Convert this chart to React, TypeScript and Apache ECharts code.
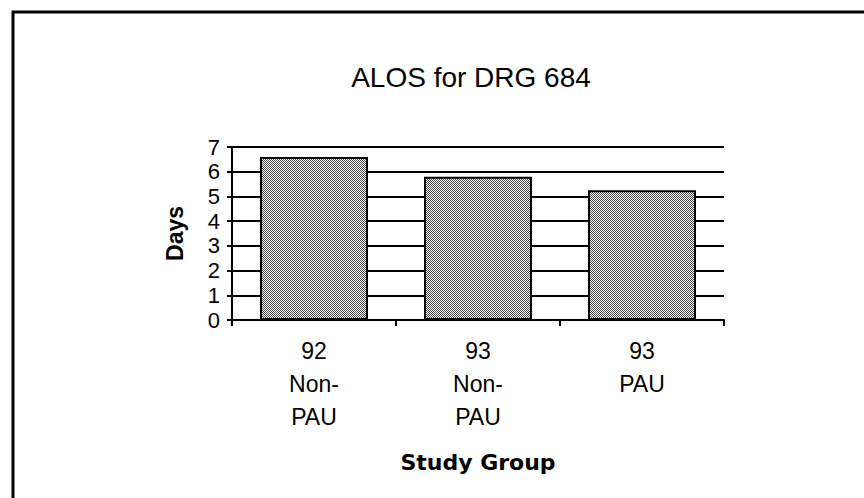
import React, { useEffect, useRef } from "react";
import * as echarts from "echarts";

const categories = ["92\nNon-\nPAU", "93\nNon-\nPAU", "93\nPAU"];
const alosDays = [6.6, 5.8, 5.25];
const titleText = "ALOS for DRG 684";
const yAxisName = "Days";
const xAxisName = "Study Group";

function makePattern(): HTMLCanvasElement {
  const c = document.createElement("canvas");
  c.width = 2;
  c.height = 2;
  const ctx = c.getContext("2d")!;
  ctx.fillStyle = "#ffffff";
  ctx.fillRect(0, 0, 2, 2);
  ctx.fillStyle = "#4a4a4a";
  ctx.fillRect(0, 0, 1, 1);
  ctx.fillRect(1, 1, 1, 1);
  return c;
}

export default function App() {
  const ref = useRef<HTMLDivElement>(null);
  useEffect(() => {
    if (!ref.current) return;
    const chart = echarts.init(ref.current, undefined, { renderer: "svg" });
    const sans = '"Liberation Sans", Arial, sans-serif';
    chart.setOption({
      animation: false,
      backgroundColor: "#ffffff",
      title: {
        text: titleText,
        left: 466,
        top: 58,
        textAlign: "center",
        textStyle: {
          fontFamily: sans,
          fontWeight: "normal",
          fontSize: 28,
          color: "#000",
        },
      },
      graphic: [
        {
          type: "rect",
          shape: { x: 13, y: 12, width: 900, height: 600 },
          style: { fill: "none", stroke: "#000", lineWidth: 3 },
          silent: true,
        },
      ],
      grid: { left: 232, right: 140, top: 147, bottom: 178, containLabel: false },
      xAxis: {
        type: "category",
        data: categories,
        name: xAxisName,
        nameLocation: "middle",
        nameGap: 131,
        nameTextStyle: {
          fontFamily: '"DejaVu Sans", sans-serif',
          fontWeight: "bold",
          fontSize: 22,
          color: "#000",
        },
        axisLine: { lineStyle: { color: "#000", width: 2 } },
        axisTick: { show: true, length: 6, lineStyle: { color: "#000", width: 2 } },
        axisLabel: {
          color: "#000",
          fontFamily: sans,
          fontSize: 23,
          lineHeight: 33,
          margin: 14,
          interval: 0,
        },
      },
      yAxis: {
        type: "value",
        min: 0,
        max: 7,
        interval: 1,
        name: yAxisName,
        nameLocation: "middle",
        nameGap: 46,
        nameRotate: 90,
        nameTextStyle: {
          fontFamily: sans,
          fontWeight: "bold",
          fontSize: 23,
          color: "#000",
        },
        axisLine: { show: true, lineStyle: { color: "#000", width: 2 } },
        axisTick: { show: true, length: 5, lineStyle: { color: "#000", width: 2 } },
        axisLabel: {
          color: "#000",
          fontFamily: sans,
          fontSize: 22,
          margin: 12,
        },
        splitLine: { show: true, lineStyle: { color: "#000", width: 2 } },
      },
      series: [
        {
          type: "bar",
          data: alosDays,
          barWidth: 108,
          itemStyle: {
            color: { image: makePattern(), repeat: "repeat" },
            borderColor: "#000",
            borderWidth: 2,
          },
        },
      ],
    });
    return () => chart.dispose();
  }, []);
  return (
    <div
      ref={ref}
      style={{ position: "absolute", left: 0, top: 0, width: 864, height: 498 }}
    />
  );
}
